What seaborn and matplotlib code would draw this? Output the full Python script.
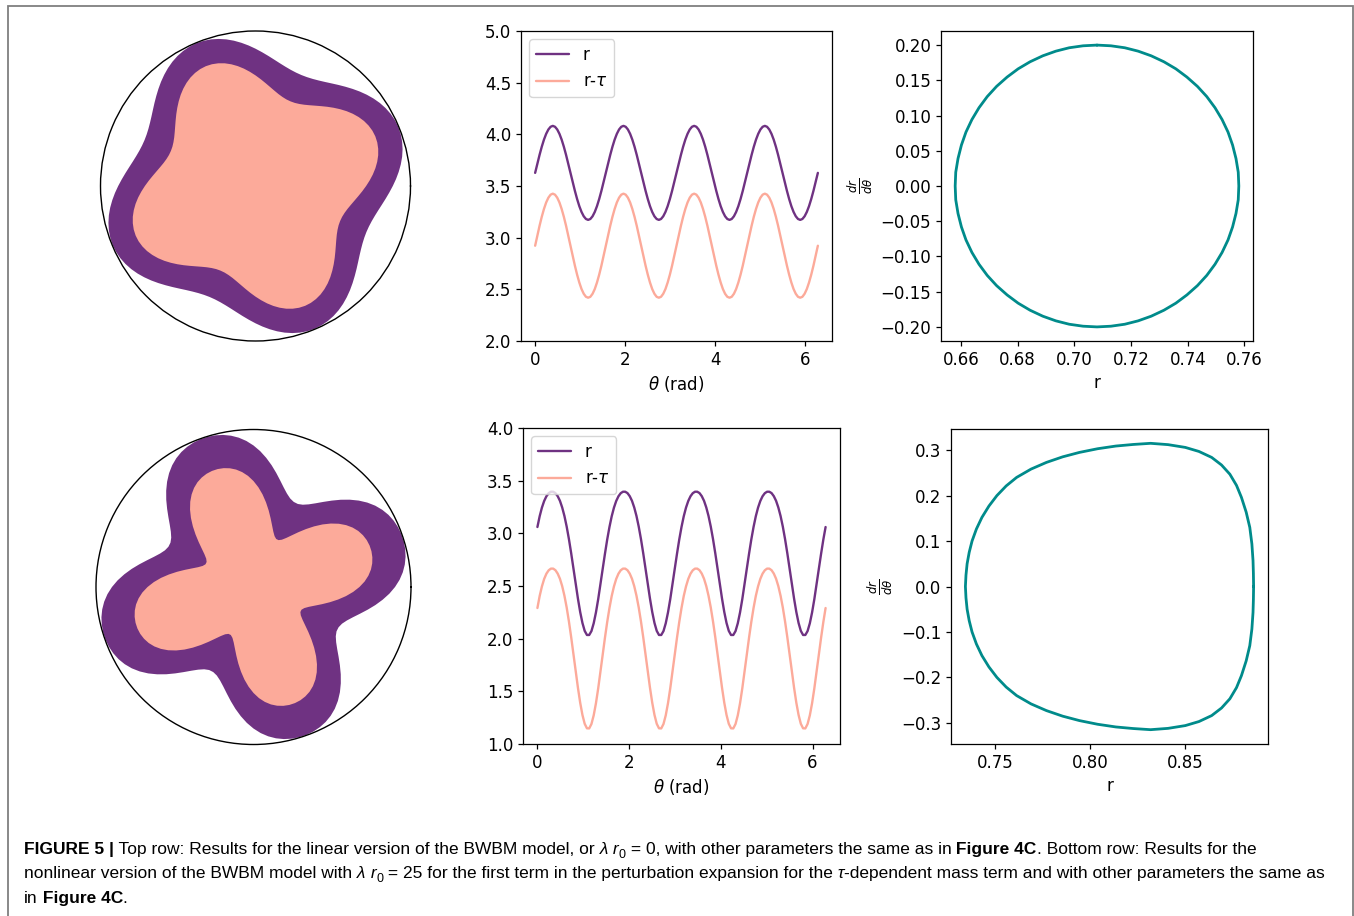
import matplotlib
matplotlib.use("Agg")
import matplotlib.pyplot as plt
import seaborn as sns
from matplotlib.patches import Rectangle

# sample angles (rad), one sample every pi/64
theta = [0.0000, 0.0491, 0.0982, 0.1473, 0.1963, 0.2454, 0.2945, 0.3436, 0.3927, 0.4418, 0.4909, 0.5400,
         0.5890, 0.6381, 0.6872, 0.7363, 0.7854, 0.8345, 0.8836, 0.9327, 0.9817, 1.0308, 1.0799, 1.1290,
         1.1781, 1.2272, 1.2763, 1.3254, 1.3744, 1.4235, 1.4726, 1.5217, 1.5708, 1.6199, 1.6690, 1.7181,
         1.7671, 1.8162, 1.8653, 1.9144, 1.9635, 2.0126, 2.0617, 2.1108, 2.1598, 2.2089, 2.2580, 2.3071,
         2.3562, 2.4053, 2.4544, 2.5035, 2.5525, 2.6016, 2.6507, 2.6998, 2.7489, 2.7980, 2.8471, 2.8962,
         2.9452, 2.9943, 3.0434, 3.0925, 3.1416, 3.1907, 3.2398, 3.2889, 3.3379, 3.3870, 3.4361, 3.4852,
         3.5343, 3.5834, 3.6325, 3.6816, 3.7306, 3.7797, 3.8288, 3.8779, 3.9270, 3.9761, 4.0252, 4.0743,
         4.1233, 4.1724, 4.2215, 4.2706, 4.3197, 4.3688, 4.4179, 4.4670, 4.5160, 4.5651, 4.6142, 4.6633,
         4.7124, 4.7615, 4.8106, 4.8597, 4.9087, 4.9578, 5.0069, 5.0560, 5.1051, 5.1542, 5.2033, 5.2524,
         5.3014, 5.3505, 5.3996, 5.4487, 5.4978, 5.5469, 5.5960, 5.6451, 5.6941, 5.7432, 5.7923, 5.8414,
         5.8905, 5.9396, 5.9887, 6.0378, 6.0868, 6.1359, 6.1850, 6.2341, 6.2832]

# top row (linear model): r and r - tau
r_top = [3.627, 3.716, 3.801, 3.880, 3.949, 4.005, 4.047, 4.073, 4.082, 4.073, 4.047, 4.005, 3.949, 3.880, 3.801, 3.716,
         3.627, 3.538, 3.453, 3.374, 3.305, 3.249, 3.207, 3.181, 3.172, 3.181, 3.207, 3.249, 3.305, 3.374, 3.453, 3.538,
         3.627, 3.716, 3.801, 3.880, 3.949, 4.005, 4.047, 4.073, 4.082, 4.073, 4.047, 4.005, 3.949, 3.880, 3.801, 3.716,
         3.627, 3.538, 3.453, 3.374, 3.305, 3.249, 3.207, 3.181, 3.172, 3.181, 3.207, 3.249, 3.305, 3.374, 3.453, 3.538,
         3.627, 3.716, 3.801, 3.880, 3.949, 4.005, 4.047, 4.073, 4.082, 4.073, 4.047, 4.005, 3.949, 3.880, 3.801, 3.716,
         3.627, 3.538, 3.453, 3.374, 3.305, 3.249, 3.207, 3.181, 3.172, 3.181, 3.207, 3.249, 3.305, 3.374, 3.453, 3.538,
         3.627, 3.716, 3.801, 3.880, 3.949, 4.005, 4.047, 4.073, 4.082, 4.073, 4.047, 4.005, 3.949, 3.880, 3.801, 3.716,
         3.627, 3.538, 3.453, 3.374, 3.305, 3.249, 3.207, 3.181, 3.172, 3.181, 3.207, 3.249, 3.305, 3.374, 3.453, 3.538,
         3.627]
rtau_top = [2.922, 3.020, 3.115, 3.202, 3.278, 3.341, 3.387, 3.416, 3.426, 3.416, 3.387, 3.341, 3.278, 3.202, 3.115, 3.020,
            2.922, 2.824, 2.729, 2.642, 2.566, 2.503, 2.457, 2.428, 2.419, 2.428, 2.457, 2.503, 2.566, 2.642, 2.729, 2.824,
            2.922, 3.020, 3.115, 3.202, 3.278, 3.341, 3.387, 3.416, 3.426, 3.416, 3.387, 3.341, 3.278, 3.202, 3.115, 3.020,
            2.922, 2.824, 2.729, 2.642, 2.566, 2.503, 2.457, 2.428, 2.419, 2.428, 2.457, 2.503, 2.566, 2.642, 2.729, 2.824,
            2.922, 3.020, 3.115, 3.202, 3.278, 3.341, 3.387, 3.416, 3.426, 3.416, 3.387, 3.341, 3.278, 3.202, 3.115, 3.020,
            2.922, 2.824, 2.729, 2.642, 2.566, 2.503, 2.457, 2.428, 2.419, 2.428, 2.457, 2.503, 2.566, 2.642, 2.729, 2.824,
            2.922, 3.020, 3.115, 3.202, 3.278, 3.341, 3.387, 3.416, 3.426, 3.416, 3.387, 3.341, 3.278, 3.202, 3.115, 3.020,
            2.922, 2.824, 2.729, 2.642, 2.566, 2.503, 2.457, 2.428, 2.419, 2.428, 2.457, 2.503, 2.566, 2.642, 2.729, 2.824,
            2.922]

# bottom row (nonlinear model): r and r - tau
r_bot = [3.060, 3.162, 3.244, 3.307, 3.352, 3.381, 3.395, 3.395, 3.382, 3.353, 3.309, 3.246, 3.165, 3.064, 2.945, 2.811,
         2.668, 2.521, 2.380, 2.253, 2.149, 2.074, 2.035, 2.035, 2.072, 2.146, 2.249, 2.375, 2.516, 2.663, 2.806, 2.941,
         3.060, 3.162, 3.244, 3.307, 3.352, 3.381, 3.395, 3.395, 3.382, 3.353, 3.309, 3.246, 3.165, 3.064, 2.945, 2.811,
         2.668, 2.521, 2.380, 2.253, 2.149, 2.074, 2.035, 2.035, 2.072, 2.146, 2.249, 2.375, 2.516, 2.663, 2.806, 2.941,
         3.060, 3.162, 3.244, 3.307, 3.352, 3.381, 3.395, 3.395, 3.382, 3.353, 3.309, 3.246, 3.165, 3.064, 2.945, 2.811,
         2.668, 2.521, 2.380, 2.253, 2.149, 2.074, 2.035, 2.035, 2.072, 2.146, 2.249, 2.375, 2.516, 2.663, 2.806, 2.941,
         3.060, 3.162, 3.244, 3.307, 3.352, 3.381, 3.395, 3.395, 3.382, 3.353, 3.309, 3.246, 3.165, 3.064, 2.945, 2.811,
         2.668, 2.521, 2.380, 2.253, 2.149, 2.074, 2.035, 2.035, 2.072, 2.146, 2.249, 2.375, 2.516, 2.663, 2.806, 2.941,
         3.060]
rtau_bot = [2.291, 2.405, 2.496, 2.567, 2.617, 2.649, 2.665, 2.665, 2.650, 2.618, 2.569, 2.499, 2.408, 2.296, 2.163, 2.014,
            1.854, 1.691, 1.534, 1.392, 1.276, 1.192, 1.149, 1.148, 1.190, 1.272, 1.387, 1.528, 1.685, 1.848, 2.009, 2.158,
            2.291, 2.405, 2.496, 2.567, 2.617, 2.649, 2.665, 2.665, 2.650, 2.618, 2.569, 2.499, 2.408, 2.296, 2.163, 2.014,
            1.854, 1.691, 1.534, 1.392, 1.276, 1.192, 1.149, 1.148, 1.190, 1.272, 1.387, 1.528, 1.685, 1.848, 2.009, 2.158,
            2.291, 2.405, 2.496, 2.567, 2.617, 2.649, 2.665, 2.665, 2.650, 2.618, 2.569, 2.499, 2.408, 2.296, 2.163, 2.014,
            1.854, 1.691, 1.534, 1.392, 1.276, 1.192, 1.149, 1.148, 1.190, 1.272, 1.387, 1.528, 1.685, 1.848, 2.009, 2.158,
            2.291, 2.405, 2.496, 2.567, 2.617, 2.649, 2.665, 2.665, 2.650, 2.618, 2.569, 2.499, 2.408, 2.296, 2.163, 2.014,
            1.854, 1.691, 1.534, 1.392, 1.276, 1.192, 1.149, 1.148, 1.190, 1.272, 1.387, 1.528, 1.685, 1.848, 2.009, 2.158,
            2.291]

# phase loops (r, dr/dtheta)
loop_r_top = [0.708, 0.7129, 0.7178, 0.7225, 0.7271, 0.7316, 0.7358, 0.7397, 0.7434, 0.7467, 0.7496, 0.7521,
              0.7542, 0.7558, 0.7570, 0.7578, 0.758, 0.7578, 0.7570, 0.7558, 0.7542, 0.7521, 0.7496, 0.7467,
              0.7434, 0.7397, 0.7358, 0.7316, 0.7271, 0.7225, 0.7178, 0.7129, 0.708, 0.7031, 0.6982, 0.6935,
              0.6889, 0.6844, 0.6802, 0.6763, 0.6726, 0.6693, 0.6664, 0.6639, 0.6618, 0.6602, 0.6590, 0.6582,
              0.658, 0.6582, 0.6590, 0.6602, 0.6618, 0.6639, 0.6664, 0.6693, 0.6726, 0.6763, 0.6802, 0.6844,
              0.6889, 0.6935, 0.6982, 0.7031, 0.708]
loop_dr_top = [0.2, 0.1990, 0.1962, 0.1914, 0.1848, 0.1763, 0.1663, 0.1546, 0.1414, 0.1269, 0.1111, 0.0943,
               0.0765, 0.0581, 0.0390, 0.0196, 0.0, -0.0196, -0.0390, -0.0581, -0.0765, -0.0943, -0.1111, -0.1269,
               -0.1414, -0.1546, -0.1663, -0.1763, -0.1848, -0.1914, -0.1962, -0.1990, -0.2, -0.1990, -0.1962, -0.1914,
               -0.1848, -0.1763, -0.1663, -0.1546, -0.1414, -0.1269, -0.1111, -0.0943, -0.0765, -0.0581, -0.0390, -0.0196,
               0.0, 0.0196, 0.0390, 0.0581, 0.0765, 0.0943, 0.1111, 0.1269, 0.1414, 0.1546, 0.1663, 0.1763,
               0.1848, 0.1914, 0.1962, 0.1990, 0.2]

loop_r_bot = [0.8862, 0.8861, 0.8859, 0.8853, 0.8842, 0.8823, 0.8798, 0.8772, 0.8737, 0.8693, 0.8641, 0.8574,
              0.8502, 0.8411, 0.8319, 0.8228, 0.8136, 0.8040, 0.7944, 0.7856, 0.7770, 0.7689, 0.7613, 0.7558,
              0.7509, 0.7467, 0.7430, 0.7401, 0.7378, 0.7363, 0.7352, 0.7346, 0.7343,
              0.7346, 0.7352, 0.7363, 0.7378, 0.7401, 0.7430, 0.7467, 0.7509, 0.7558, 0.7613, 0.7689, 0.7770,
              0.7856, 0.7944, 0.8040, 0.8136, 0.8228, 0.8319, 0.8411, 0.8502, 0.8574, 0.8641, 0.8693, 0.8737,
              0.8772, 0.8798, 0.8823, 0.8842, 0.8853, 0.8859, 0.8861, 0.8862]
loop_dr_bot = [0.0, 0.0285, 0.057, 0.0936, 0.130, 0.1635, 0.196, 0.2224, 0.247, 0.2673, 0.284, 0.2971,
               0.306, 0.3121, 0.315, 0.3125, 0.309, 0.3031, 0.295, 0.2853, 0.273, 0.2583, 0.240, 0.2213,
               0.200, 0.177, 0.152, 0.1265, 0.100, 0.0752, 0.050, 0.025, 0.0,
               -0.025, -0.050, -0.0752, -0.100, -0.1265, -0.152, -0.177, -0.200, -0.2213, -0.240, -0.2583, -0.273,
               -0.2853, -0.295, -0.3031, -0.309, -0.3125, -0.315, -0.3121, -0.306, -0.2971, -0.284, -0.2673, -0.247,
               -0.2224, -0.196, -0.1635, -0.130, -0.0936, -0.057, -0.0285, 0.0]

PURPLE = "#6f3282"
SALMON = "#fcaa9a"
TEAL = "#008b8b"

sns.set_theme(style="ticks", rc={"axes.edgecolor": "black", "xtick.color": "black",
                                 "ytick.color": "black", "text.color": "black",
                                 "axes.labelcolor": "black", "axes.linewidth": 0.9,
                                 "xtick.major.size": 3.5, "ytick.major.size": 3.5,
                                 "xtick.major.width": 0.9, "ytick.major.width": 0.9})
plt.rcParams["font.family"] = ["DejaVu Sans"]
plt.rcParams["mathtext.fontset"] = "dejavusans"

W, H = 1354, 916
fig = plt.figure(figsize=(W / 100, H / 100), dpi=100)
fig.patch.set_facecolor("white")


def box(x0, y0, x1, y1):
    return [x0 / W, 1 - y1 / H, (x1 - x0) / W, (y1 - y0) / H]


FS = 12

# left: polar shapes
for rect, r, rt in [(box(100, 31, 411, 341), r_top, rtau_top),
                    (box(96, 429, 411, 745), r_bot, rtau_bot)]:
    ax = fig.add_axes(rect, projection="polar")
    ax.fill(theta, r, color=PURPLE, lw=0)
    ax.fill(theta, rt, color=SALMON, lw=0)
    ax.set_ylim(0, max(r) * 1.003)
    ax.set_xticks([])
    ax.set_yticks([])
    ax.grid(False)
    ax.spines["polar"].set_color("black")
    ax.spines["polar"].set_linewidth(1.0)

# middle: r and r-tau against theta
for rect, r, rt, ylim in [(box(521, 31, 832, 341), r_top, rtau_top, (2, 5)),
                          (box(523, 428, 840, 744), r_bot, rtau_bot, (1, 4))]:
    ax = fig.add_axes(rect)
    sns.lineplot(x=theta, y=r, color=PURPLE, lw=1.7, label="r", ax=ax)
    sns.lineplot(x=theta, y=rt, color=SALMON, lw=1.7, label=r"r-$\tau$", ax=ax)
    ax.set_ylim(*ylim)
    ax.set_xticks([0, 2, 4, 6])
    ax.set_xlabel(r"$\theta$ (rad)", fontsize=FS)
    ax.set_ylabel("")
    ax.tick_params(labelsize=FS)
    ax.legend(loc="upper left", fontsize=FS)

# right: phase portraits
for rect, lx, ly in [(box(941, 31, 1253, 341), loop_r_top, loop_dr_top),
                     (box(951, 429, 1268, 744), loop_r_bot, loop_dr_bot)]:
    ax = fig.add_axes(rect)
    sns.lineplot(x=lx, y=ly, sort=False, estimator=None, color=TEAL, lw=2.0, ax=ax)
    ax.set_xlabel("r", fontsize=FS)
    ax.set_ylabel(r"$\frac{dr}{d\theta}$", fontsize=FS)
    ax.tick_params(labelsize=FS)

# outer frame
fig.patches.append(Rectangle((8 / W, -0.02), (1353 - 8) / W, 1 - 6 / H + 0.02,
                             transform=fig.transFigure, fill=False,
                             edgecolor="#7f7f7f", lw=1.3, clip_on=False))

# caption with mixed styles
renderer = fig.canvas.get_renderer()
CAP = 12.55


def caption_line(y_px, runs):
    x = 24 / W
    for txt, style in runs:
        kw = dict(fontsize=CAP, family="Liberation Sans", va="baseline", ha="left")
        yy = 1 - y_px / H
        if style == "b":
            kw["fontweight"] = "bold"
        elif style == "i":
            kw["fontstyle"] = "italic"
        elif style == "sub":
            kw["fontsize"] = CAP * 0.72
            yy -= 4 / H
        t = fig.text(x, yy, txt, **kw)
        x += t.get_window_extent(renderer).width / W


caption_line(854, [("FIGURE 5 |", "b"),
                   (" Top row: Results for the linear version of the BWBM model, or", "n"),
                   (" \u03bb", "i"), (" r", "i"), ("0", "sub"),
                   (" = 0, with other parameters the same as in", "n"),
                   (" Figure 4C", "b"), (". Bottom row: Results for the", "n")])
caption_line(878, [("nonlinear version of the BWBM model with", "n"),
                   (" \u03bb", "i"), (" r", "i"), ("0", "sub"),
                   (" = 25 for the first term in the perturbation expansion for the", "n"),
                   (" \u03c4", "i"),
                   ("-dependent mass term and with other parameters the same as", "n")])
caption_line(903, [("in", "n"), (" Figure 4C", "b"), (".", "n")])

fig.savefig("out.png", dpi=100, facecolor="white")
